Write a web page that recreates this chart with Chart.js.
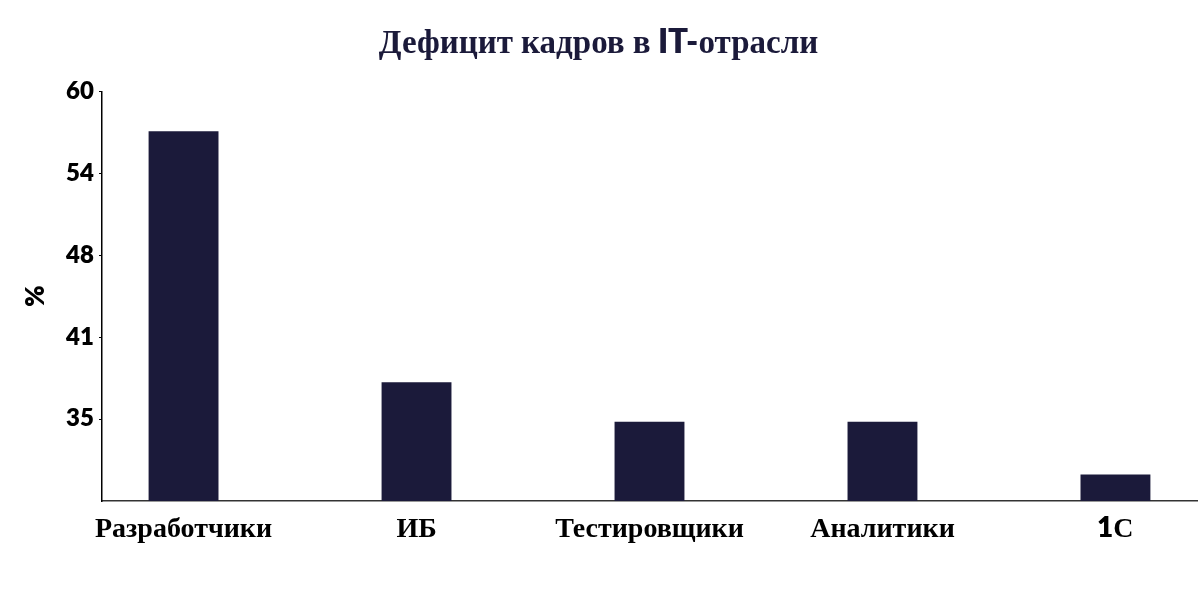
<!DOCTYPE html>
<html><head><meta charset="utf-8">
<style>
@font-face { font-family:'LatinMix'; src: local('Lato Black'), local('Lato-Black'), local('Lato Heavy'), local('Lato Bold'), local('Lato-Bold'); font-weight: 700; unicode-range: U+0000-024F; }
html,body{margin:0;padding:0;background:#fff;}
#wrap{width:1200px;height:597px;position:relative;}
canvas{display:block;}
</style>
<script src="https://cdn.jsdelivr.net/npm/chart.js@4"></script>
</head><body><div id="wrap"><canvas id="c" width="1200" height="597"></canvas></div>
<script>
const titleText = 'Дефицит кадров в IT-отрасли';
const categories = ['Разработчики', 'ИБ', 'Тестировщики', 'Аналитики', '1С'];
const values = [57, 38, 35, 35, 31];
const yTickValues = [35.2, 41.4, 47.6, 53.8, 60];
const yAxisTitle = '%';
const yMin = 29, yMax = 60;

const FAM = "LatinMix, 'Liberation Serif', serif";
const NAVY = '#1b1a3a';

function build() {
  new Chart(document.getElementById('c'), {
    type: 'bar',
    data: {
      datasets: [{
        data: values.map((v, i) => ({ x: i, y: v })),
        backgroundColor: NAVY,
        borderWidth: 0,
        barPercentage: 0.3,
        categoryPercentage: 1
      }]
    },
    options: {
      responsive: false,
      devicePixelRatio: 1,
      animation: false,
      layout: { padding: { left: 0, right: 3, top: 0, bottom: 0 } },
      plugins: {
        legend: { display: false },
        tooltip: { enabled: false },
        title: {
          display: true,
          text: titleText,
          color: NAVY,
          font: { family: FAM, size: 33, weight: 'bold', lineHeight: 1.2 },
          padding: { top: 23, bottom: 29 }
        }
      },
      scales: {
        x: {
          type: 'linear',
          offset: false,
          min: -0.35,
          max: 4.35,
          afterBuildTicks: (s) => { s.ticks = categories.map((_, i) => ({ value: i })); },
          afterFit: (s) => { s.height = 96; },
          ticks: {
            autoSkip: false,
            maxRotation: 0,
            color: '#000',
            padding: 11,
            font: { family: FAM, size: 28, weight: 'bold' },
            callback: (v) => categories[v]
          },
          grid: { display: false, drawTicks: false, offset: false },
          border: { display: true, color: '#333', width: 1.5 }
        },
        y: {
          min: yMin,
          max: yMax,
          afterBuildTicks: (s) => { s.ticks = yTickValues.map(v => ({ value: v })); },
          afterFit: (s) => { s.width = 102; },
          ticks: {
            color: '#000',
            padding: 5,
            font: { family: FAM, size: 24, weight: 'bold' },
            callback: (v) => String(Math.round(v))
          },
          grid: { drawOnChartArea: false, drawTicks: true, tickLength: 3, color: '#000', lineWidth: 1 },
          border: { display: true, color: '#000', width: 1.5 },
          title: {
            display: true,
            text: yAxisTitle,
            color: '#000',
            font: { family: FAM, size: 26, weight: 'bold' },
            padding: { top: 20, bottom: 0 }
          }
        }
      }
    }
  });
}

let done = false;
function go() { if (!done) { done = true; build(); } }
Promise.race([
  Promise.all([
    document.fonts.load("700 24px LatinMix", "60"),
    document.fonts.load("700 24px 'Liberation Serif'", "Дефицит")
  ]),
  new Promise(r => setTimeout(r, 1500))
]).then(go, go);
</script>
</body></html>
